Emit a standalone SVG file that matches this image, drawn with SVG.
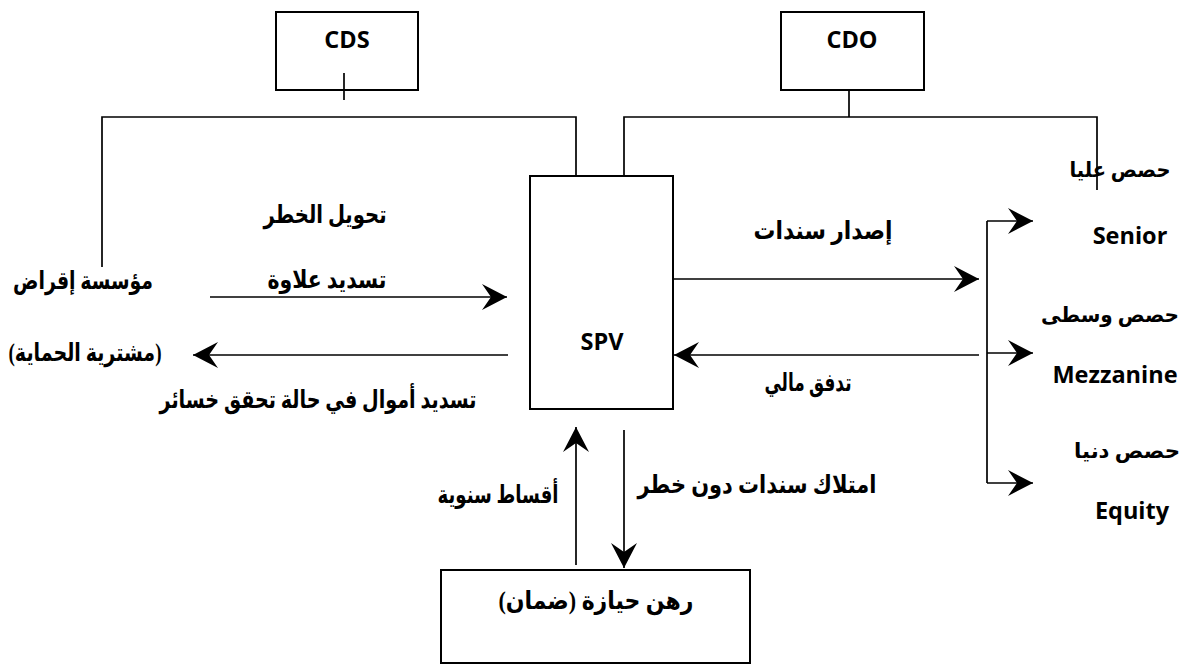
<svg xmlns="http://www.w3.org/2000/svg" width="1185" height="666" viewBox="0 0 1185 666">
<style>
.box{fill:#fff;stroke:#000;stroke-width:2}
.ln{fill:none;stroke:#000;stroke-width:1.7}
.ar{fill:none;stroke:#000;stroke-width:1.7;marker-end:url(#ah)}
.lat{font-family:"Open Sans","Liberation Sans",sans-serif;font-weight:bold;font-size:23.5px;fill:#000;text-anchor:middle;dominant-baseline:middle}
.ara{font-family:"Liberation Serif","DejaVu Sans",serif;font-weight:bold;font-size:25px;fill:#000;text-anchor:middle;dominant-baseline:middle}
.ars{font-size:21px}
</style>
<defs>
<marker id="ah" markerUnits="userSpaceOnUse" markerWidth="26" markerHeight="26" viewBox="0 0 26 26" refX="25" refY="13" orient="auto">
<path d="M25,13 L0,0 L9,13 L0,26 Z" fill="#000"/>
</marker>
</defs>
<rect width="1185" height="666" fill="#fff"/>
<g id="cds">
<rect class="box" x="276" y="12" width="142" height="78"/>
<text class="lat" x="347" y="42">CDS</text>
</g>
<g id="cdo">
<rect class="box" x="781" y="12" width="143" height="78"/>
<text class="lat" x="852" y="42">CDO</text>
</g>
<g id="spv">
<rect class="box" x="530" y="176" width="143" height="233"/>
<text class="lat" x="602" y="344">SPV</text>
</g>
<g id="collateral">
<rect class="box" x="441" y="570" width="309" height="93"/>
<text class="ara" x="596" y="603" textLength="195" lengthAdjust="spacingAndGlyphs">رهن حيازة  (ضمان)</text>
</g>
<g id="lender">
<text class="ara" x="83" y="283" textLength="140" lengthAdjust="spacingAndGlyphs">مؤسسة إقراض</text>
<text class="ara" x="85" y="355" textLength="153" lengthAdjust="spacingAndGlyphs">(مشترية الحماية)</text>
</g>
<g id="senior">
<text class="ara ars" x="1120" y="172" textLength="101" lengthAdjust="spacingAndGlyphs">حصص عليا</text>
<text class="lat" x="1130" y="238">Senior</text>
</g>
<g id="mezzanine">
<text class="ara ars" x="1110" y="317" textLength="138" lengthAdjust="spacingAndGlyphs">حصص وسطى</text>
<text class="lat" x="1115" y="377">Mezzanine</text>
</g>
<g id="equity">
<text class="ara ars" x="1127" y="453" textLength="106" lengthAdjust="spacingAndGlyphs">حصص دنيا</text>
<text class="lat" x="1132" y="513">Equity</text>
</g>
<g id="labels">
<text class="ara" x="325" y="217" textLength="123" lengthAdjust="spacingAndGlyphs">تحويل الخطر</text>
<text class="ara" x="327" y="282" textLength="119" lengthAdjust="spacingAndGlyphs">تسديد علاوة</text>
<text class="ara" x="318" y="402" textLength="317" lengthAdjust="spacingAndGlyphs">تسديد أموال في حالة تحقق خسائر</text>
<text class="ara" x="823" y="233" textLength="139" lengthAdjust="spacingAndGlyphs">إصدار سندات</text>
<text class="ara" x="808" y="385" textLength="87" lengthAdjust="spacingAndGlyphs">تدفق مالي</text>
<text class="ara" x="498" y="497" textLength="121" lengthAdjust="spacingAndGlyphs">أقساط سنوية</text>
<text class="ara" x="757" y="487" textLength="239" lengthAdjust="spacingAndGlyphs">امتلاك سندات دون خطر</text>
</g>
<g id="connectors">
<line class="ln" x1="344" y1="73" x2="344" y2="100"/>
<polyline class="ln" points="102,267 102,117 576,117 576,176"/>
<line class="ln" x1="849" y1="90" x2="849" y2="117"/>
<polyline class="ln" points="624,176 624,117 1097,117 1097,190"/>
<line class="ar" x1="210" y1="297" x2="507" y2="297"/>
<line class="ar" x1="508" y1="355" x2="193" y2="355"/>
<line class="ar" x1="673" y1="279" x2="979" y2="279"/>
<line class="ar" x1="979" y1="355" x2="674" y2="355"/>
<polyline class="ln" points="987,221 987,483"/>
<line class="ar" x1="987" y1="221" x2="1033" y2="221"/>
<line class="ar" x1="987" y1="353" x2="1033" y2="353"/>
<line class="ar" x1="987" y1="483" x2="1033" y2="483"/>
<line class="ar" x1="576" y1="565" x2="576" y2="427"/>
<line class="ar" x1="624" y1="430" x2="624" y2="568"/>
</g>
</svg>
